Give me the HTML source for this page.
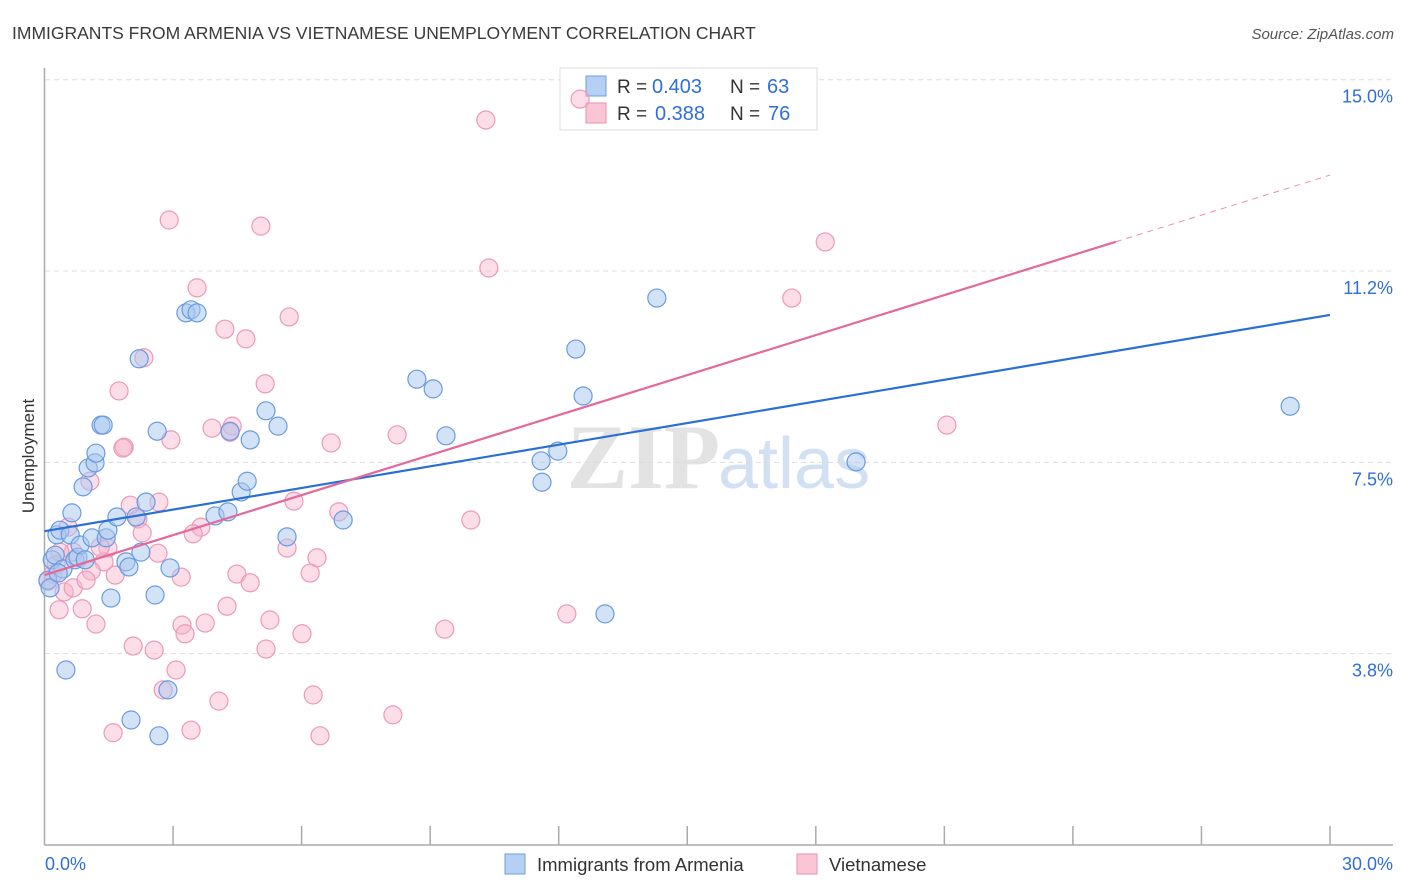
<!DOCTYPE html>
<html><head><meta charset="utf-8"><style>
body{margin:0;background:#fff;font-family:"Liberation Sans",sans-serif;}
#wrap{position:relative;width:1406px;height:892px;overflow:hidden;}
</style></head><body>
<div id="wrap">
<svg id="svg" width="1406" height="892" xmlns="http://www.w3.org/2000/svg">
<text x="12" y="39" font-size="17.5" fill="#3a3a3a">IMMIGRANTS FROM ARMENIA VS VIETNAMESE UNEMPLOYMENT CORRELATION CHART</text>
<text x="1394" y="39" font-size="15" fill="#555" font-style="italic" text-anchor="end">Source: ZipAtlas.com</text>
<text x="720" y="488" font-size="92" fill="#e3e3e3" text-anchor="end" font-family="Liberation Serif,serif" font-weight="bold">ZIP</text>
<text x="718" y="488" font-size="72" fill="#d2e0f4">atlas</text>
<g id="grid"></g><g id="axes"></g>
<g>
<rect x="560" y="68" width="257" height="62" fill="#fff" stroke="#ddd"/>
<rect x="586" y="76" width="20" height="20" fill="#b6d0f4" stroke="#6a9be0"/>
<rect x="586" y="103" width="20" height="20" fill="#fac6d6" stroke="#e890b0"/>
<text x="617" y="93" font-size="19" fill="#333">R =</text>
<text x="652" y="93" font-size="20" fill="#2f6fd6">0.403</text>
<text x="730" y="93" font-size="19" fill="#333">N =</text>
<text x="767" y="93" font-size="20" fill="#2f6fd6">63</text>
<text x="617" y="120" font-size="19" fill="#333">R =</text>
<text x="655" y="120" font-size="20" fill="#2f6fd6">0.388</text>
<text x="730" y="120" font-size="19" fill="#333">N =</text>
<text x="768" y="120" font-size="20" fill="#2f6fd6">76</text>
</g>
<g id="pts"></g><g id="trends"></g>
<text x="34" y="456" font-size="17" fill="#333" text-anchor="middle" transform="rotate(-90 34 456)">Unemployment</text>
<g>
<rect x="505" y="854" width="20" height="20" fill="#b6d0f4" stroke="#6a9be0"/>
<text x="537" y="871" font-size="18.5" fill="#333">Immigrants from Armenia</text>
<rect x="797" y="854" width="20" height="20" fill="#fac6d6" stroke="#e890b0"/>
<text x="829" y="871" font-size="18.5" fill="#333">Vietnamese</text>
</g>
</svg>
</div>
<script>
const blueX=[0.18,0.25,0.29,0.36,0.43,0.50,0.60,0.64,0.71,0.78,0.83,0.90,0.95,1.02,1.11,1.18,1.20,1.32,1.37,1.44,1.48,1.55,1.69,1.90,1.97,2.02,2.14,2.21,2.25,2.37,2.58,2.63,2.67,2.88,2.93,3.30,3.42,3.56,3.98,4.28,4.33,4.59,4.73,4.80,5.17,5.45,5.66,6.97,8.69,9.07,9.37,11.59,11.61,11.98,12.40,12.57,13.08,14.29,18.94,29.07,0.08,0.13,0.32];
const blueY=[5.59,5.68,6.08,6.17,5.41,3.43,6.08,6.51,5.59,5.64,5.88,7.02,5.59,7.39,6.02,7.49,7.68,8.23,8.23,6.02,6.17,4.84,6.43,5.55,5.45,2.45,6.43,9.53,5.74,6.72,4.90,8.11,2.14,3.04,5.43,10.43,10.49,10.43,6.45,6.53,8.11,6.92,7.13,7.94,8.51,8.21,6.04,6.37,9.13,8.94,8.02,7.53,7.11,7.72,9.72,8.80,4.53,10.72,7.51,8.60,5.19,5.04,5.33];
const pinkX=[12.50,10.30,2.91,5.05,10.37,18.22,17.44,3.56,5.71,4.21,4.70,2.32,1.74,5.15,1.86,1.83,2.95,3.91,4.38,4.33,6.69,8.23,21.06,1.06,2.00,2.67,2.18,5.82,6.87,9.95,3.65,3.47,2.28,0.55,1.48,0.67,2.65,1.39,5.66,6.36,1.09,1.65,3.19,4.49,4.80,6.20,0.46,0.67,0.97,0.20,0.08,0.34,0.88,1.20,4.26,3.21,5.26,3.75,3.28,6.01,9.34,12.19,2.07,2.56,5.17,3.07,2.77,4.07,6.27,8.13,1.60,3.42,6.43,0.27,0.36,1.30];
const pinkY=[14.62,14.21,12.25,12.13,11.31,11.82,10.72,10.92,10.35,10.11,9.92,9.55,8.90,9.04,7.80,7.78,7.94,8.17,8.21,8.09,7.88,8.04,8.23,7.13,6.66,6.72,6.39,6.74,6.53,6.37,6.23,6.10,6.12,6.23,5.82,5.74,5.72,5.55,5.82,5.63,5.37,5.29,5.25,5.31,5.14,5.33,4.96,5.04,5.19,5.31,5.17,4.61,4.63,4.33,4.68,4.31,4.41,4.35,4.14,4.14,4.23,4.53,3.90,3.82,3.84,3.43,3.04,2.82,2.94,2.55,2.20,2.25,2.14,5.49,5.74,5.84];
const yTicks=[15.0,11.25,7.5,3.75];
const yTickLabels=["15.0%","11.2%","7.5%","3.8%"];
const blueTrend=[6.15,10.39];
const pinkTrend=[5.29,13.13];
const pinkSolidEnd=25.0;
const NS="http://www.w3.org/2000/svg";
const X=v=>44.5+v*42.85, Y=v=>845-v*51.02;
function mk(tag,attrs,parent){const e=document.createElementNS(NS,tag);for(const k in attrs)e.setAttribute(k,attrs[k]);document.getElementById(parent).appendChild(e);return e;}
yTicks.forEach((t,i)=>{const yy=Y(t);
 const l=mk('line',{x1:45,x2:1393,y1:yy,y2:yy,stroke:'#dcdcdc','stroke-dasharray':'5,4'},'grid');
 
 
 const tx=mk('text',{x:1393,y:yy+23,'font-size':18,fill:'#2f6fd6','text-anchor':'end'},'grid');
 tx.textContent=yTickLabels[i];
 
 });
let a=mk('line',{x1:44.5,x2:44.5,y1:68,y2:845,stroke:'#aaa','stroke-width':1.5},'axes');


a=mk('line',{x1:44.5,x2:1393,y1:845,y2:845,stroke:'#aaa','stroke-width':1.5},'axes');


for(let i=1;i<=10;i++){const t=mk('line',{x1:X(i*3),x2:X(i*3),y1:826,y2:845,stroke:'#aaa','stroke-width':1.5},'axes');
 
 }
let t1=mk('text',{x:45,y:870,'font-size':18,fill:'#2f6fd6'},'axes');t1.textContent='0.0%';


t1=mk('text',{x:1393,y:870,'font-size':18,fill:'#2f6fd6','text-anchor':'end'},'axes');t1.textContent='30.0%';


pinkX.forEach((x,i)=>{const c=mk('circle',{cx:X(x),cy:Y(pinkY[i]),r:9,fill:'rgba(248,180,203,0.45)',stroke:'#eb9ab8','stroke-width':1.2},'pts');
 
 });
blueX.forEach((x,i)=>{const c=mk('circle',{cx:X(x),cy:Y(blueY[i]),r:9,fill:'rgba(168,200,240,0.5)',stroke:'#6a9be0','stroke-width':1.2},'pts');
 
 });
let l=mk('line',{x1:X(0),y1:Y(blueTrend[0]),x2:X(30),y2:Y(blueTrend[1]),stroke:'#2a6fd6','stroke-width':2.2},'trends');


const py=x=>pinkTrend[0]+(pinkTrend[1]-pinkTrend[0])*x/30;
l=mk('line',{x1:X(0),y1:Y(py(0)),x2:X(pinkSolidEnd),y2:Y(py(pinkSolidEnd)),stroke:'#e4689a','stroke-width':2.2},'trends');


l=mk('line',{x1:X(pinkSolidEnd),y1:Y(py(pinkSolidEnd)),x2:X(30),y2:Y(py(30)),stroke:'#e890b0','stroke-width':1,'stroke-dasharray':'6,5'},'trends');


</script>
</body></html>
